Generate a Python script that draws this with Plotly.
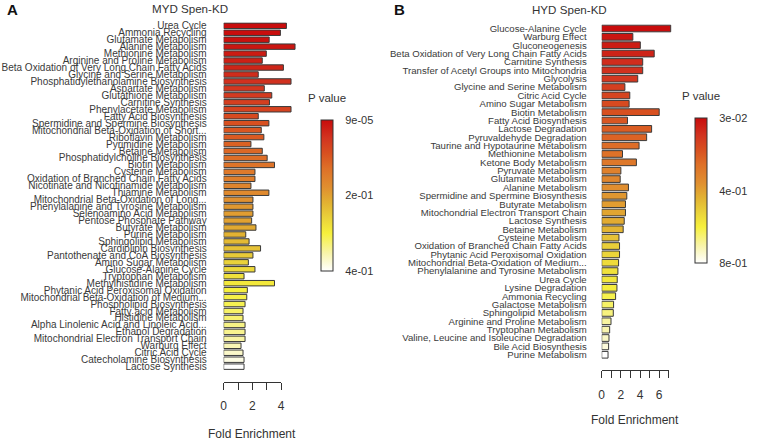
import plotly.graph_objects as go

W, H = 757, 442

# MYD Spen-KD (panel A), top to bottom
myd_pathways = [
    "Urea Cycle", "Ammonia Recycling", "Glutamate Metabolism", "Alanine Metabolism",
    "Methionine Metabolism", "Arginine and Proline Metabolism",
    "Beta Oxidation of Very Long Chain Fatty Acids", "Glycine and Serine Metabolism",
    "Phosphatidylethanolamine Biosynthesis", "Aspartate Metabolism",
    "Glutathione Metabolism", "Carnitine Synthesis", "Phenylacetate Metabolism",
    "Fatty Acid Biosynthesis", "Spermidine and Spermine Biosynthesis",
    "Mitochondrial Beta-Oxidation of Short...", "Riboflavin Metabolism",
    "Pyrimidine Metabolism", "Betaine Metabolism", "Phosphatidylcholine Biosynthesis",
    "Biotin Metabolism", "Cysteine Metabolism", "Oxidation of Branched Chain Fatty Acids",
    "Nicotinate and Nicotinamide Metabolism", "Thiamine Metabolism",
    "Mitochondrial Beta-Oxidation of Long...", "Phenylalanine and Tyrosine Metabolism",
    "Selenoamino Acid Metabolism", "Pentose Phosphate Pathway", "Butyrate Metabolism",
    "Purine Metabolism", "Sphingolipid Metabolism", "Cardiolipin Biosynthesis",
    "Pantothenate and CoA Biosynthesis", "Amino Sugar Metabolism", "Glucose-Alanine Cycle",
    "Tryptophan Metabolism", "Methylhistidine Metabolism",
    "Phytanic Acid Peroxisomal Oxidation", "Mitochondrial Beta-Oxidation of Medium...",
    "Phospholipid Biosynthesis", "Fatty acid Metabolism", "Histidine Metabolism",
    "Alpha Linolenic Acid and Linoleic Acid...", "Ethanol Degradation",
    "Mitochondrial Electron Transport Chain", "Warburg Effect", "Citric Acid Cycle",
    "Catecholamine Biosynthesis", "Lactose Synthesis",
]
myd_fold = [
    4.37, 3.95, 3.17, 4.97, 2.97, 2.69, 4.16, 2.41, 4.69, 2.83,
    3.35, 3.19, 4.69, 2.41, 3.15, 2.62, 2.80, 1.90, 2.69, 3.03,
    3.54, 2.18, 2.18, 1.90, 3.15, 2.04, 2.04, 2.04, 1.95, 2.25,
    1.54, 1.77, 2.57, 2.04, 1.72, 2.18, 1.42, 3.54, 1.65, 1.61,
    1.49, 1.35, 1.35, 1.49, 1.49, 1.49, 1.21, 1.35, 1.42, 1.42,
]
myd_pval = [
    0.00009, 0.003, 0.006, 0.012, 0.018, 0.024, 0.03, 0.038, 0.045, 0.052,
    0.058, 0.064, 0.07, 0.08, 0.088, 0.095, 0.1, 0.11, 0.118, 0.125,
    0.135, 0.145, 0.15, 0.16, 0.17, 0.18, 0.19, 0.195, 0.2, 0.21,
    0.22, 0.23, 0.24, 0.25, 0.26, 0.27, 0.28, 0.29, 0.3, 0.305,
    0.31, 0.32, 0.325, 0.335, 0.34, 0.35, 0.36, 0.37, 0.385, 0.4,
]

# HYD Spen-KD (panel B), top to bottom
hyd_pathways = [
    "Glucose-Alanine Cycle", "Warburg Effect", "Gluconeogenesis",
    "Beta Oxidation of Very Long Chain Fatty Acids", "Carnitine Synthesis",
    "Transfer of Acetyl Groups into Mitochondria", "Glycolysis",
    "Glycine and Serine Metabolism", "Citric Acid Cycle", "Amino Sugar Metabolism",
    "Biotin Metabolism", "Fatty Acid Biosynthesis", "Lactose Degradation",
    "Pyruvaldehyde Degradation", "Taurine and Hypotaurine Metabolism",
    "Methionine Metabolism", "Ketone Body Metabolism", "Pyruvate Metabolism",
    "Glutamate Metabolism", "Alanine Metabolism", "Spermidine and Spermine Biosynthesis",
    "Butyrate Metabolism", "Mitochondrial Electron Transport Chain", "Lactose Synthesis",
    "Betaine Metabolism", "Cysteine Metabolism", "Oxidation of Branched Chain Fatty Acids",
    "Phytanic Acid Peroxisomal Oxidation", "Mitochondrial Beta-Oxidation of Medium...",
    "Phenylalanine and Tyrosine Metabolism", "Urea Cycle", "Lysine Degradation",
    "Ammonia Recycling", "Galactose Metabolism", "Sphingolipid Metabolism",
    "Arginine and Proline Metabolism", "Tryptophan Metabolism",
    "Valine, Leucine and Isoleucine Degradation", "Bile Acid Biosynthesis",
    "Purine Metabolism",
]
hyd_fold = [
    7.2, 3.25, 4.03, 5.48, 4.28, 4.28, 3.76, 2.42, 2.93, 2.86,
    6.0, 2.69, 5.21, 4.69, 3.90, 2.17, 3.62, 2.0, 1.93, 2.79,
    2.62, 2.48, 2.48, 2.35, 2.24, 1.80, 1.86, 1.86, 1.76, 1.69,
    1.62, 1.59, 1.45, 1.24, 1.21, 0.97, 0.83, 0.76, 0.72, 0.66,
]
hyd_pval = [
    0.03, 0.053, 0.069, 0.084, 0.107, 0.115, 0.13, 0.153, 0.169, 0.184,
    0.199, 0.215, 0.23, 0.246, 0.269, 0.284, 0.3, 0.33, 0.346, 0.369,
    0.392, 0.407, 0.423, 0.438, 0.461, 0.492, 0.523, 0.538, 0.554, 0.569,
    0.584, 0.6, 0.623, 0.646, 0.669, 0.7, 0.715, 0.738, 0.761, 0.8,
]

# white -> yellow -> orange -> red (low p is red)
heat = [
    [0.0, "#ffffff"], [0.12, "#f8f4a8"], [0.25, "#f6f03c"], [0.35, "#ead23a"],
    [0.45, "#e2b232"], [0.55, "#e09030"], [0.68, "#de7028"], [0.78, "#d85020"],
    [0.88, "#d23420"], [1.0, "#c80c0c"],
]

FONT = "Liberation Sans, Arial, sans-serif"
TXT = "#333333"


def px_x(v):
    return v / W


def px_y(v):
    return 1 - v / H


def add_panel(fig, pathways, fold, pval, xa, ya, cb_x, cb_top, cb_bot, cb_ticks, cb_text, bar_w):
    fig.add_trace(go.Bar(
        x=fold, y=pathways, orientation="h",
        xaxis=xa, yaxis=ya, width=bar_w,
        marker=dict(
            color=[-p for p in pval], colorscale=heat,
            cmin=-max(pval), cmax=-min(pval),
            line=dict(color="#3a3a3a", width=1),
            colorbar=dict(
                x=px_x(cb_x), xanchor="left",
                y=px_y((cb_top + cb_bot) / 2), yanchor="middle",
                len=cb_bot - cb_top, lenmode="pixels",
                thickness=12, thicknessmode="pixels",
                outlinewidth=1, outlinecolor="#333333",
                tickvals=[-t for t in cb_ticks], ticktext=cb_text,
                ticks="outside", ticklen=10, tickcolor="rgba(0,0,0,0)",
                tickfont=dict(size=11, color=TXT, family=FONT),
                xpad=0, ypad=0,
            ),
        ),
        showlegend=False,
    ))


fig = go.Figure()
add_panel(fig, myd_pathways, myd_fold, myd_pval, "x", "y",
          320.7, 120, 270.7, [0.00009, 0.2, 0.4], ["9e-05", "2e-01", "4e-01"], 0.78)
add_panel(fig, hyd_pathways, hyd_fold, hyd_pval, "x2", "y2",
          698.7, 118, 263, [0.03, 0.415, 0.8], ["3e-02", "4e-01", "8e-01"], 0.8)

# dummy traces so the separate "ruler" axes get drawn
fig.add_trace(go.Scatter(x=[0, 4], y=[0, 0], xaxis="x3", yaxis="y3", mode="markers",
                         marker=dict(opacity=0), showlegend=False, hoverinfo="skip"))
fig.add_trace(go.Scatter(x=[0, 7], y=[0, 0], xaxis="x4", yaxis="y4", mode="markers",
                         marker=dict(opacity=0), showlegend=False, hoverinfo="skip"))

bar_x = dict(visible=False, showgrid=False, zeroline=False)
fig.update_layout(
    xaxis=dict(bar_x, domain=[px_x(222.7), px_x(305)], range=[0, (305 - 222.7) / 14.5], anchor="y"),
    yaxis=dict(domain=[px_y(371.5), px_y(20.5)], range=[49.5, -0.5], anchor="x",
               tickmode="array", tickvals=myd_pathways, ticktext=myd_pathways,
               showgrid=False, zeroline=False, showline=False, ticks="",
               ticklabelstandoff=16, tickfont=dict(size=10, color="#3a3a3a", family=FONT)),
    xaxis2=dict(bar_x, domain=[px_x(604.3), px_x(690)], range=[0, (690 - 604.3) / 9.67], anchor="y2"),
    yaxis2=dict(domain=[px_y(360.2), px_y(22.5)], range=[39.5, -0.5], anchor="x2",
                tickmode="array", tickvals=hyd_pathways, ticktext=hyd_pathways,
                showgrid=False, zeroline=False, showline=False, ticks="",
                ticklabelstandoff=14, tickfont=dict(size=9.6, color="#3a3a3a", family=FONT)),
)

ruler = dict(showgrid=False, zeroline=False, showline=True, linecolor="#333333", linewidth=1,
             ticks="outside", ticklen=7, tickcolor="#333333", tickwidth=1,
             tickfont=dict(size=12, color=TXT, family=FONT), ticklabelstandoff=6,
             anchor="free", fixedrange=True)
fig.update_layout(
    xaxis3=dict(ruler, domain=[px_x(222.7), px_x(222.7 + 4 * 14.5)], range=[0, 4],
                position=px_y(383.3), tickvals=[0, 1, 2, 3, 4], ticktext=["0", "", "2", "", "4"]),
    yaxis3=dict(visible=False, domain=[0, 0.05], range=[1, 2], anchor="x3"),
    xaxis4=dict(ruler, domain=[px_x(604.3), px_x(604.3 + 7 * 9.67)], range=[0, 7],
                position=px_y(371.7), tickvals=list(range(8)),
                ticktext=["0", "", "2", "", "4", "", "6", ""]),
    yaxis4=dict(visible=False, domain=[0, 0.05], range=[1, 2], anchor="x4"),
)

notes = [
    ("A", 2, 8, 15, "left", True),
    ("B", 392.7, 8, 15, "left", True),
    ("MYD Spen-KD", 188.7, 7, 11.6, "center", False),
    ("HYD Spen-KD", 571.8, 8, 11.6, "center", False),
    ("P value", 326.7, 97, 11.5, "center", False),
    ("P value", 704.5, 95, 11.5, "center", False),
    ("Fold Enrichment", 251.7, 435.7, 12, "center", False),
    ("Fold Enrichment", 638.2, 421.7, 12, "center", False),
]
for text, x, y, size, anchor, bold in notes:
    fig.add_annotation(
        text=f"<b>{text}</b>" if bold else text,
        x=px_x(x), y=px_y(y), xref="paper", yref="paper",
        xanchor=anchor, yanchor="middle", showarrow=False,
        font=dict(size=size, color="#111111" if bold else TXT, family=FONT),
    )

fig.update_layout(
    width=W, height=H,
    margin=dict(l=0, r=0, t=0, b=0),
    paper_bgcolor="white", plot_bgcolor="white",
    bargap=0.2,
)

# page body has a default 8px margin, drop it so the figure fills the window
fig.write_html("out.html", config={"displayModeBar": False},
               post_script="document.body.style.margin='0';")
